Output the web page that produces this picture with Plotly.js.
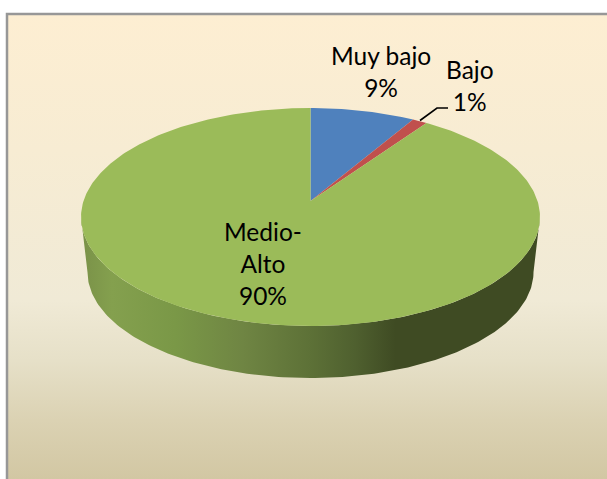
<!DOCTYPE html>
<html><head><meta charset="utf-8">
<script src="https://cdn.plot.ly/plotly-3.0.1.min.js"></script>
<style>html,body{margin:0;padding:0;background:#fff;overflow:hidden}#c{width:607px;height:479px}</style>
</head><body><div id="c"></div>
<script>
// Data
var categories = ['Muy bajo', 'Bajo', 'Medio-<br>Alto'];
var values = [8.5, 1.2, 90.3];
var percentLabels = ['9%', '1%', '90%'];
var sliceColors = ['#4f81bd', '#c0504d', '#9bbb59'];
var wallStops = [[0,'#7b9349'],[0.06,'#84a04e'],[0.2,'#7a9847'],[0.35,'#6f8543'],[0.5,'#5d7137'],[0.6,'#4f602f'],[0.69,'#3f4b23'],[1,'#3f4b23']];
var bgStops = [[0,'#fdeed2'],[0.29,'#f7ecd3'],[0.614,'#f0ead6'],[0.744,'#e6e0c8'],[0.873,'#dbd2b3'],[1,'#d2c7a3']];

// Projection of the pie disc
var top0 = {x:310.5, y:201, A:227, B:106.65};
var base0 = {x:310.5, y:256.5, A:220.6, B:103.7};
var persp = 0.1468;
function proj(d, deg, r){
  var t = deg*Math.PI/180, den = 1 + persp*r*Math.cos(t);
  return [d.x + d.A*r*Math.sin(t)/den, d.y - d.B*r*Math.cos(t)/den];
}
var traces = [];
function poly(pts, extra){
  var t = {type:'scatter', mode:'lines', x:pts.map(function(p){return p[0]}), y:pts.map(function(p){return p[1]}),
    fill:'toself', line:{width:0}, hoverinfo:'skip', showlegend:false};
  for (var k in extra) t[k] = extra[k];
  traces.push(t);
}
// background and frame
poly([[8,15],[607,15],[607,479],[8,479]], {fillgradient:{type:'vertical', colorscale:bgStops, start:15, stop:479}});
traces.push({type:'scatter', mode:'lines', x:[7,7,607], y:[479,14,14], line:{color:'#979797',width:2.5}, hoverinfo:'skip', showlegend:false});

// wall
var tan = Math.acos(-persp)*180/Math.PI, wall = [], i, n = 160;
for (i=0;i<=n;i++) wall.push(proj(top0, tan+(360-2*tan)*i/n, 1));
for (i=n;i>=0;i--) wall.push(proj(base0, tan+(360-2*tan)*i/n, 1));
poly(wall, {fillgradient:{type:'horizontal', colorscale:wallStops, start:85, stop:535}});

// top face slices
var total = values.reduce(function(a,b){return a+b},0), start = 0;
values.forEach(function(v,j){
  var a0 = start/total*360, a1 = (start+v)/total*360, pts = [proj(top0,0,0)], m = Math.max(4,Math.ceil(v*4));
  for (var q=0;q<=m;q++) pts.push(proj(top0, a0+(a1-a0)*q/m, 1));
  pts.push(proj(top0,0,0));
  poly(pts, {fillcolor:sliceColors[j], name:categories[j]});
  start += v;
});
// leader line for "Bajo"
traces.push({type:'scatter', mode:'lines', x:[420,437,448], y:[120.5,108,108], line:{color:'#000',width:1.6}, hoverinfo:'skip', showlegend:false});

var font = {family:'Lato, Carlito, sans-serif', size:24.5, color:'#000'};
function label(i,x,y){ return {x:x,y:y,xref:'x',yref:'y',text:categories[i]+'<br>'+percentLabels[i],showarrow:false,font:font,align:'center',xanchor:'center',yanchor:'middle'}; }
Plotly.newPlot('c', traces, {
  width:607, height:479, margin:{l:0,r:0,t:0,b:0}, showlegend:false,
  paper_bgcolor:'#fff', plot_bgcolor:'rgba(0,0,0,0)',
  xaxis:{range:[0,607],visible:false,fixedrange:true},
  yaxis:{range:[479,0],visible:false,fixedrange:true},
  annotations:[label(0,381,71),label(1,470,85),label(2,263,263)]
},{displayModeBar:false,staticPlot:true});
</script></body></html>
